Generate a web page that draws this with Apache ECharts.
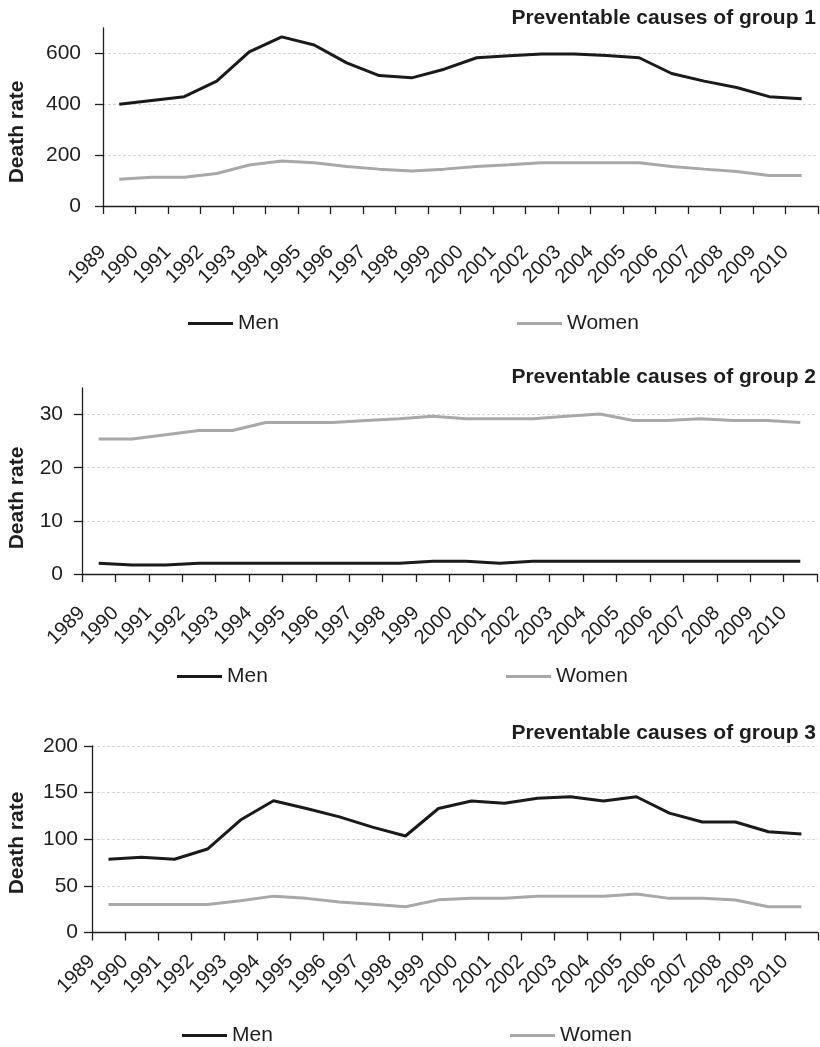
<!DOCTYPE html>
<html>
<head>
<meta charset="utf-8">
<title>Preventable causes of death</title>
<script src="https://cdn.jsdelivr.net/npm/echarts@6/dist/echarts.min.js"></script>
<style>
  html, body { margin: 0; padding: 0; background: #fff; }
  #chart { width: 820px; height: 1047px; }
</style>
</head>
<body>
<div id="chart"></div>
<script>
// Years on the horizontal axis
const years = ['1989','1990','1991','1992','1993','1994','1995','1996','1997','1998','1999',
               '2000','2001','2002','2003','2004','2005','2006','2007','2008','2009','2010'];

// Group 1 death rates
const menG1   = [400, 415, 430, 491, 606, 665, 633, 563, 513, 504, 538, 583, 591, 598, 598, 592, 583, 521, 491, 466, 430, 422];
const womenG1 = [105, 113, 113, 128, 161, 177, 170, 155, 145, 138, 145, 155, 162, 170, 170, 170, 170, 155, 145, 136, 120, 120];

// Group 2 death rates
const menG2   = [2.0, 1.7, 1.7, 2.0, 2.0, 2.0, 2.0, 2.0, 2.0, 2.0, 2.4, 2.4, 2.0, 2.4, 2.4, 2.4, 2.4, 2.4, 2.4, 2.4, 2.4, 2.4];
const womenG2 = [25.4, 25.4, 26.2, 27.0, 27.0, 28.5, 28.5, 28.5, 28.9, 29.2, 29.7, 29.2, 29.2, 29.2, 29.7, 30.1, 28.9, 28.9, 29.2, 28.9, 28.9, 28.5];

// Group 3 death rates
const menG3   = [78.5, 80.6, 78.5, 89.5, 120.6, 141.3, 133, 124, 113, 103.5, 133, 141, 138.5, 144, 145.6, 141, 145.6, 128, 118.5, 118.5, 108, 105.6];
const womenG3 = [30, 30, 30, 30, 34, 39, 36.6, 32.7, 30.2, 27.7, 35, 36.6, 36.6, 39, 39, 39, 41.3, 36.6, 36.6, 34.9, 27.7, 27.7];

// Panel titles and value-axis ticks
const titles = ['Preventable causes of group 1', 'Preventable causes of group 2', 'Preventable causes of group 3'];
const yTicks = [[0, 200, 400, 600], [0, 10, 20, 30], [0, 50, 100, 150, 200]];
const yMax = [700, 35, 200];
const yStep = [200, 10, 50];
const seriesNames = ['Men', 'Women'];

const FONT = "'Liberation Sans', Arial, Helvetica, sans-serif";
const INK = '#1e1e1e';
const MEN_COLOR = '#1a1a1a';
const WOMEN_COLOR = '#a8a8a8';

const men = [menG1, menG2, menG3];
const women = [womenG1, womenG2, womenG3];

// Layout of the three stacked panels
const layout = [
  { grid: { left: 103, top: 28,  width: 715, height: 178 },   yMargin: 22, xMargin: 43, titleTop: 8,   legendY: 323, menX: 188, womenX: 517, nameY: 132 },
  { grid: { left: 82,  top: 388, width: 735, height: 186 },   yMargin: 19, xMargin: 36, titleTop: 367, legendY: 676, menX: 177, womenX: 506, nameY: 498 },
  { grid: { left: 92,  top: 746, width: 726, height: 186.5 }, yMargin: 14, xMargin: 26, titleTop: 723, legendY: 1035, menX: 182, womenX: 510, nameY: 843 }
];

const axisLineStyle = { color: INK, width: 1.3 };

const grid = [], xAxis = [], yAxis = [], series = [], title = [], legend = [], graphic = [];

layout.forEach((p, i) => {
  grid.push(Object.assign({ containLabel: false }, p.grid));

  // category axis carrying the data and the boundary ticks
  xAxis.push({
    type: 'category', gridIndex: i, data: years, boundaryGap: true, position: 'bottom',
    axisLine: { lineStyle: axisLineStyle },
    axisTick: { show: true, interval: 0, length: 8, lineStyle: axisLineStyle },
    axisLabel: { show: false },
    splitLine: { show: false }
  });

  yAxis.push({
    type: 'value', gridIndex: i, min: 0, max: yMax[i], interval: yStep[i],
    axisLine: { show: true, lineStyle: axisLineStyle },
    axisTick: { show: true, length: 8, lineStyle: axisLineStyle, customValues: yTicks[i] },
    axisLabel: { margin: p.yMargin, fontSize: 21, color: INK, fontFamily: FONT, customValues: yTicks[i] },
    splitLine: { show: true, lineStyle: { color: '#d6d6d6', width: 1, type: [3, 2] } }
  });

  title.push({
    text: titles[i], right: 4, top: p.titleTop, padding: 0,
    textStyle: { fontSize: 21, fontWeight: 'bold', color: INK, fontFamily: FONT }
  });

  legend.push({
    data: ['Men'], left: p.menX, top: p.legendY - 10, padding: 0,
    icon: 'rect', itemWidth: 45, itemHeight: 3,
    textStyle: { fontSize: 21, color: INK, fontFamily: FONT }
  });
  legend.push({
    data: ['Women'], left: p.womenX, top: p.legendY - 10, padding: 0,
    icon: 'rect', itemWidth: 45, itemHeight: 3,
    textStyle: { fontSize: 21, color: INK, fontFamily: FONT }
  });

  graphic.push({
    type: 'text', x: 17, y: p.nameY, rotation: Math.PI / 2,
    style: {
      text: 'Death rate', fill: INK, font: "bold 21px 'Liberation Sans', Arial, sans-serif",
      textAlign: 'center', textVerticalAlign: 'middle'
    }
  });

  series.push({
    name: seriesNames[1], type: 'line', xAxisIndex: i, yAxisIndex: i, data: women[i],
    symbol: 'none', lineStyle: { width: 3, color: WOMEN_COLOR }, itemStyle: { color: WOMEN_COLOR },
    emphasis: { disabled: true }
  });
  series.push({
    name: seriesNames[0], type: 'line', xAxisIndex: i, yAxisIndex: i, data: men[i],
    symbol: 'none', lineStyle: { width: 3, color: MEN_COLOR }, itemStyle: { color: MEN_COLOR },
    emphasis: { disabled: true }
  });
});

// year labels sit on the category boundaries, rotated 45 degrees
layout.forEach((p, i) => {
  xAxis.push({
    type: 'value', gridIndex: i, position: 'bottom', min: 0, max: years.length, interval: 1,
    axisLine: { show: false }, axisTick: { show: false }, splitLine: { show: false },
    axisLabel: {
      rotate: 45, margin: p.xMargin, fontSize: 20, color: INK, fontFamily: FONT,
      formatter: v => (years[v] !== undefined ? years[v] : '')
    }
  });
});

const chart = echarts.init(document.getElementById('chart'), null, { renderer: 'canvas' });
chart.setOption({
  animation: false,
  backgroundColor: '#ffffff',
  textStyle: { fontFamily: FONT },
  title, legend, grid, xAxis, yAxis, series, graphic
});
</script>
</body>
</html>
